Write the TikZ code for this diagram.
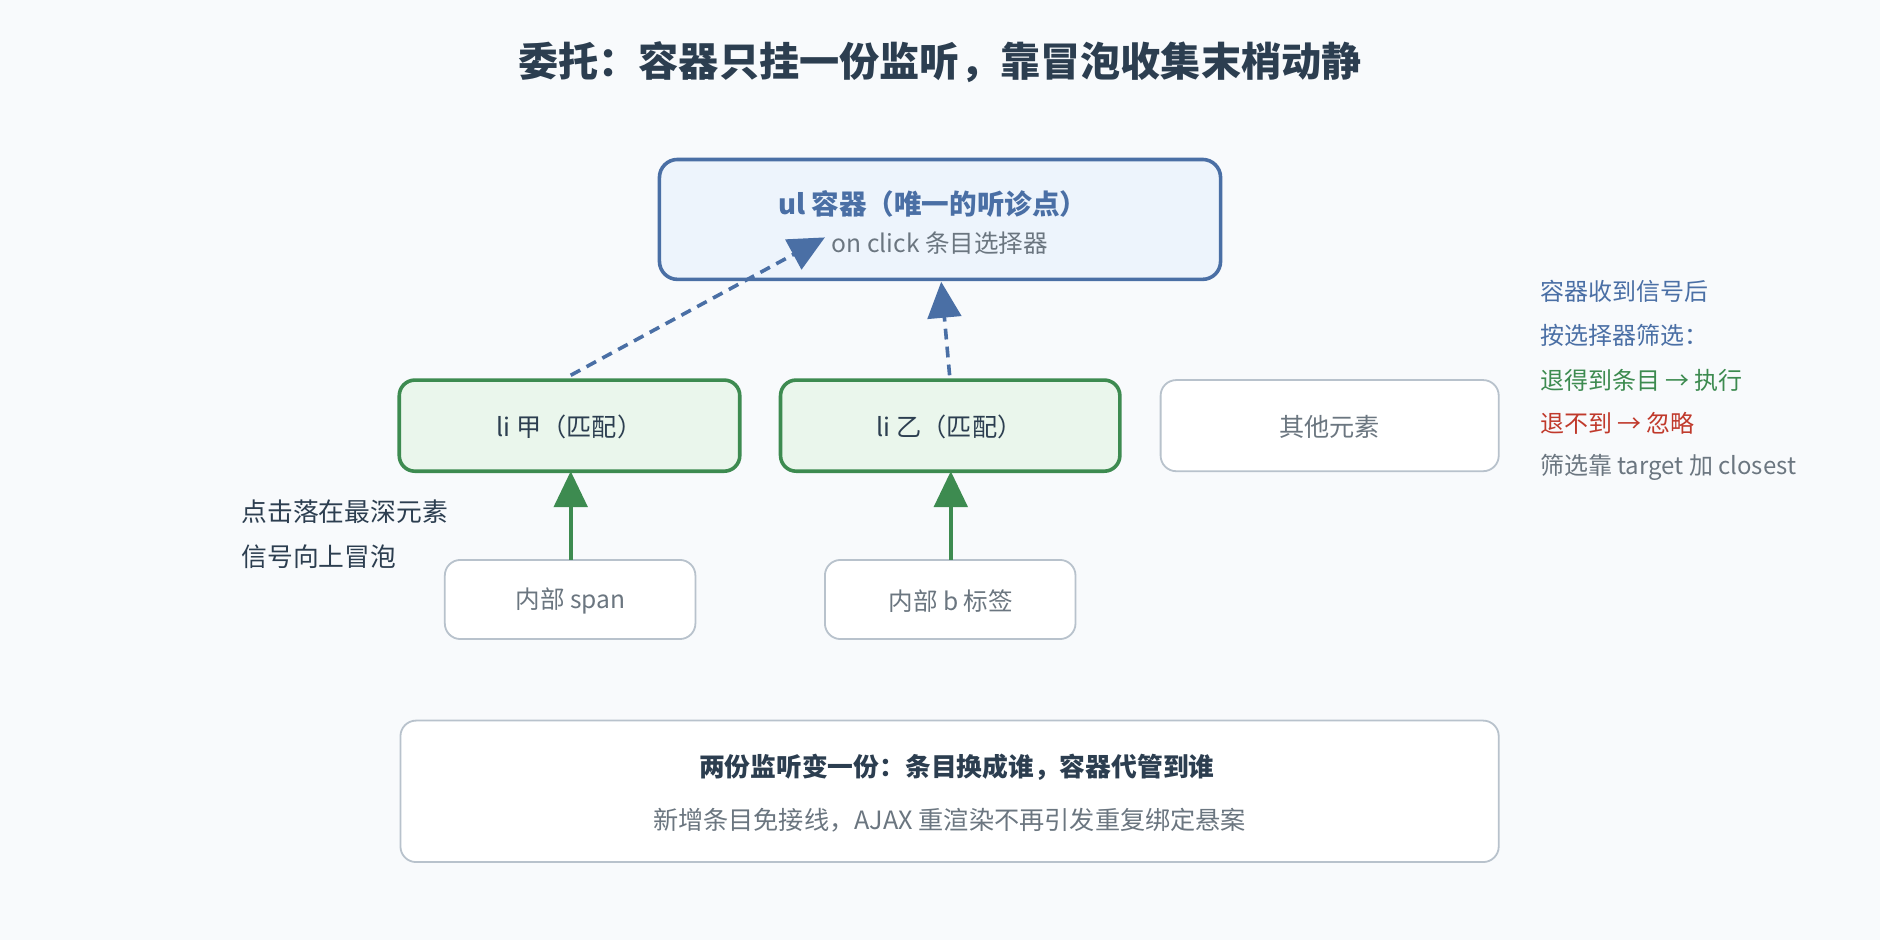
\documentclass[tikz,border=0pt]{standalone}
\usepackage{fontspec}
\setmainfont{Noto Sans CJK SC}
\usetikzlibrary{arrows.meta}
\definecolor{bg}{HTML}{F8FAFC}
\definecolor{dark}{HTML}{2C3E50}
\definecolor{blu}{HTML}{4A6FA5}
\definecolor{blufill}{HTML}{EDF4FC}
\definecolor{grn}{HTML}{3D8B50}
\definecolor{grnfill}{HTML}{EAF6EC}
\definecolor{gry}{HTML}{B8C2CC}
\definecolor{txtgray}{HTML}{6B7680}
\definecolor{rd}{HTML}{C0392B}
\begin{document}
\begin{tikzpicture}[x=1pt,y=-1pt,
  box/.style={rounded corners=13pt,line width=1.5pt,draw=gry,fill=white},
  blubox/.style={rounded corners=15pt,line width=3pt,draw=blu,fill=blufill},
  grnbox/.style={rounded corners=13pt,line width=3pt,draw=grn,fill=grnfill},
  garrow/.style={draw=grn,line width=3pt,-{Triangle[length=30pt,width=28pt]}},
  barrow/.style={draw=blu,line width=3pt,dash pattern=on 9pt off 6pt,-{Triangle[length=30pt,width=28pt]}},
  t/.style={font=\fontsize{21}{24}\selectfont},
  lt/.style={font=\fontsize{20}{24}\selectfont,anchor=west}]
\fill[bg] (0,0) rectangle (1568,784);
\useasboundingbox (0,0) rectangle (1568,784);
\node[font=\fontsize{33.5}{38}\selectfont\bfseries,text=dark] (title) at (784,52) {委托：容器只挂一份监听，靠冒泡收集末梢动静};
\draw[blubox] (550,133) rectangle (1018,233);
\node[font=\fontsize{23}{26}\selectfont\bfseries,text=blu] (ul) at (778,170) {ul 容器（唯一的听诊点）};
\node[font=\fontsize{20.5}{24}\selectfont,text=txtgray] (ul2) at (784,203) {on click 条目选择器};
\coordinate (ulA) at (688,198);
\coordinate (ulB) at (785,235);
\draw[grnbox] (333,317) rectangle (617,393);
\node[font=\fontsize{21}{24}\selectfont,text=dark] (liA) at (475,356) {li 甲（匹配）};
\draw[grnbox] (651,317) rectangle (934,393);
\node[font=\fontsize{21}{24}\selectfont,text=dark] (liB) at (792,356) {li 乙（匹配）};
\draw[box] (968,317) rectangle (1250,393);
\node[t,text=txtgray] (other) at (1109,356) {其他元素};
\draw[box] (371,467) rectangle (580,533);
\node[font=\fontsize{20.5}{24}\selectfont,text=txtgray] (span) at (476,501) {内部 span};
\draw[box] (688,467) rectangle (897,533);
\node[font=\fontsize{20.5}{24}\selectfont,text=txtgray] (bt) at (793,501) {内部 b 标签};
\coordinate (spanT) at (476,467); \coordinate (liAb) at (476,393);
\coordinate (btT) at (793,467); \coordinate (liBb) at (793,393);
\draw[garrow] (spanT) -- (liAb);
\draw[garrow] (btT) -- (liBb);
\coordinate (liAt) at (476,313); \coordinate (liBt) at (792,313);
\draw[barrow] (liAt) -- (ulA);
\draw[barrow] (liBt) -- (ulB);
\node[lt,font=\fontsize{21.5}{24}\selectfont,text=dark] (l1) at (198,427) {点击落在最深元素};
\node[lt,font=\fontsize{21.5}{24}\selectfont,text=dark] (l2) at (198,464) {信号向上冒泡};
\node[lt,text=blu] (r1) at (1281,243) {容器收到信号后};
\node[lt,text=blu] (r2) at (1281,280) {按选择器筛选：};
\node[lt,text=grn] (r3) at (1281,317) {退得到条目 → 执行};
\node[lt,text=rd] (r4) at (1281,353) {退不到 → 忽略};
\node[lt,text=txtgray] (r5) at (1281,390) {筛选靠 target 加 closest};
\draw[box] (334,601) rectangle (1250,719);
\node[font=\fontsize{21.5}{24}\selectfont\bfseries,text=dark] (b1) at (798,640) {两份监听变一份：条目换成谁，容器代管到谁};
\node[font=\fontsize{21}{24}\selectfont,text=txtgray] (b2) at (792,684) {新增条目免接线，AJAX 重渲染不再引发重复绑定悬案};
\end{tikzpicture}
\end{document}
